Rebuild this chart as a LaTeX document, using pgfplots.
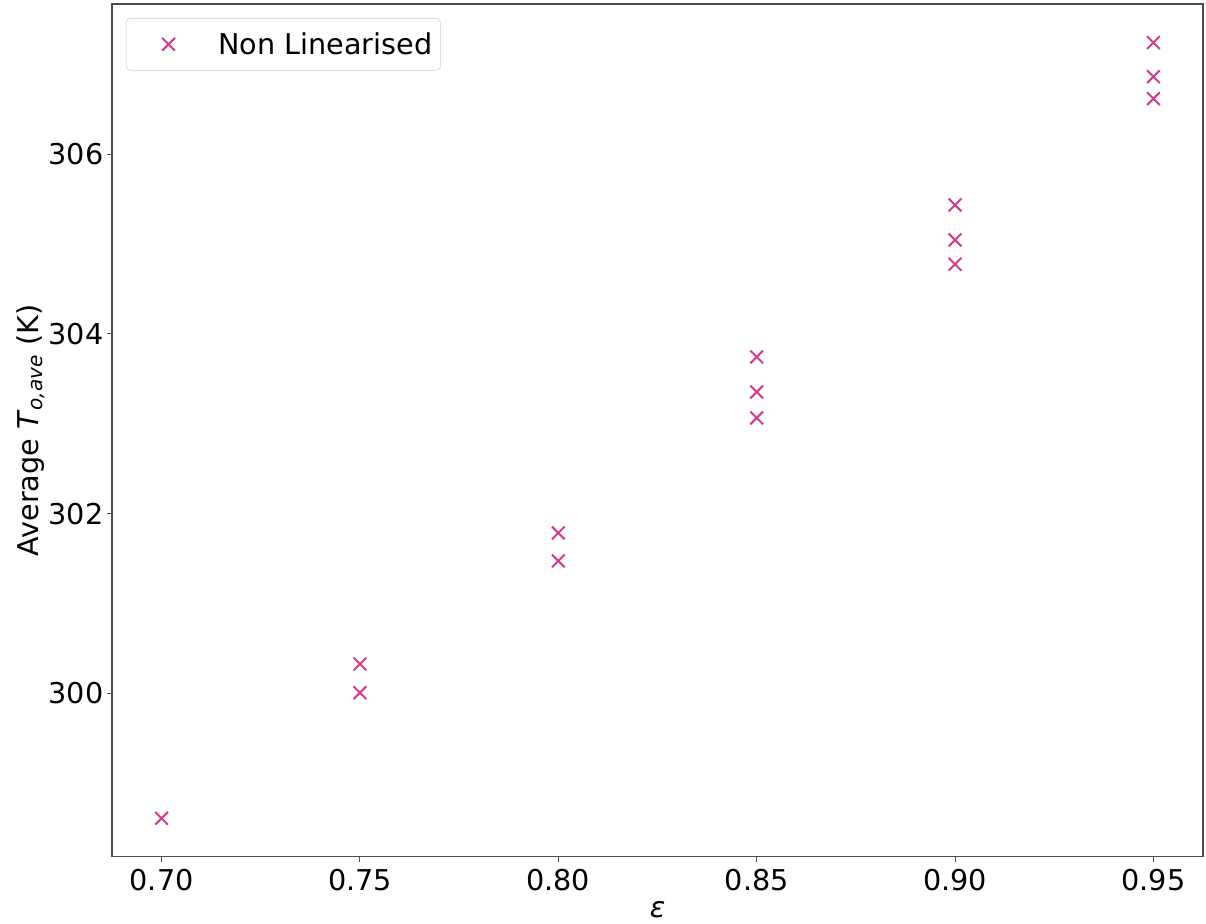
\documentclass[border=0pt]{standalone}
\usepackage{fontspec}
\setmainfont{DejaVu Sans}
\usepackage{pgfplots}
\pgfplotsset{compat=1.18}
\usetikzlibrary{calc}
\definecolor{mk}{RGB}{210,60,140}
\begin{document}
\begin{tikzpicture}
\begin{axis}[
  name=ax,
  scale only axis,
  width=818.25pt, height=639.5pt,
  xmin=0.6875, xmax=0.9625,
  ymin=298.181, ymax=307.673,
  xtick={0.70,0.75,0.80,0.85,0.90,0.95},
  xticklabels={0.70,0.75,0.80,0.85,0.90,0.95},
  ytick={300,302,304,306},
  yticklabels={300,302,304,306},
  tick align=outside,
  tick pos=left,
  major tick length=4pt,
  every tick/.style={black!70, line width=0.8pt},
  axis line style={black!70, line width=0.8pt},
  tick label style={font=\fontsize{21.5}{25}\selectfont, black},
  xticklabel style={yshift=-2pt},
  yticklabel style={xshift=1pt},
  label style={font=\fontsize{21.5}{25}\selectfont},
  xlabel={\textit{ε}},
  ylabel={Average \textit{T}\textsubscript{\textit{o,ave}} (K)},
  xlabel style={at={(axis description cs:0.5,0)}, anchor=center, yshift=-40pt},
  ylabel style={at={(axis description cs:0,0.5)}, anchor=center, yshift=61pt},
  legend style={at={(0.0128,0.9836)}, anchor=north west, draw=black!20, rounded corners=3pt,
     font=\fontsize{21.5}{25}\selectfont, inner xsep=4pt, inner ysep=8.6pt},
  legend cell align=left,
  legend image code/.code={\path (0pt,0pt) (61.5pt,0pt); \draw[#1] plot coordinates {(27pt,0pt)};},
]
\addplot[only marks, mark=x, mark size=6.75pt, mk, line width=1.5pt] coordinates {
(0.70,298.608)
(0.75,300.326) (0.75,300.007)
(0.80,301.785) (0.80,301.473)
(0.85,303.744) (0.85,303.354) (0.85,303.065)
(0.90,305.436) (0.90,305.047) (0.90,304.776)
(0.95,307.243) (0.95,306.864) (0.95,306.619)
};
\addlegendentry{Non Linearised}
\end{axis}
\pgfresetboundingbox
\path ($(ax.south west)+(-84pt,-50.5pt)$) rectangle ($(ax.north east)+(2.25pt,3pt)$);
\end{tikzpicture}
\end{document}
